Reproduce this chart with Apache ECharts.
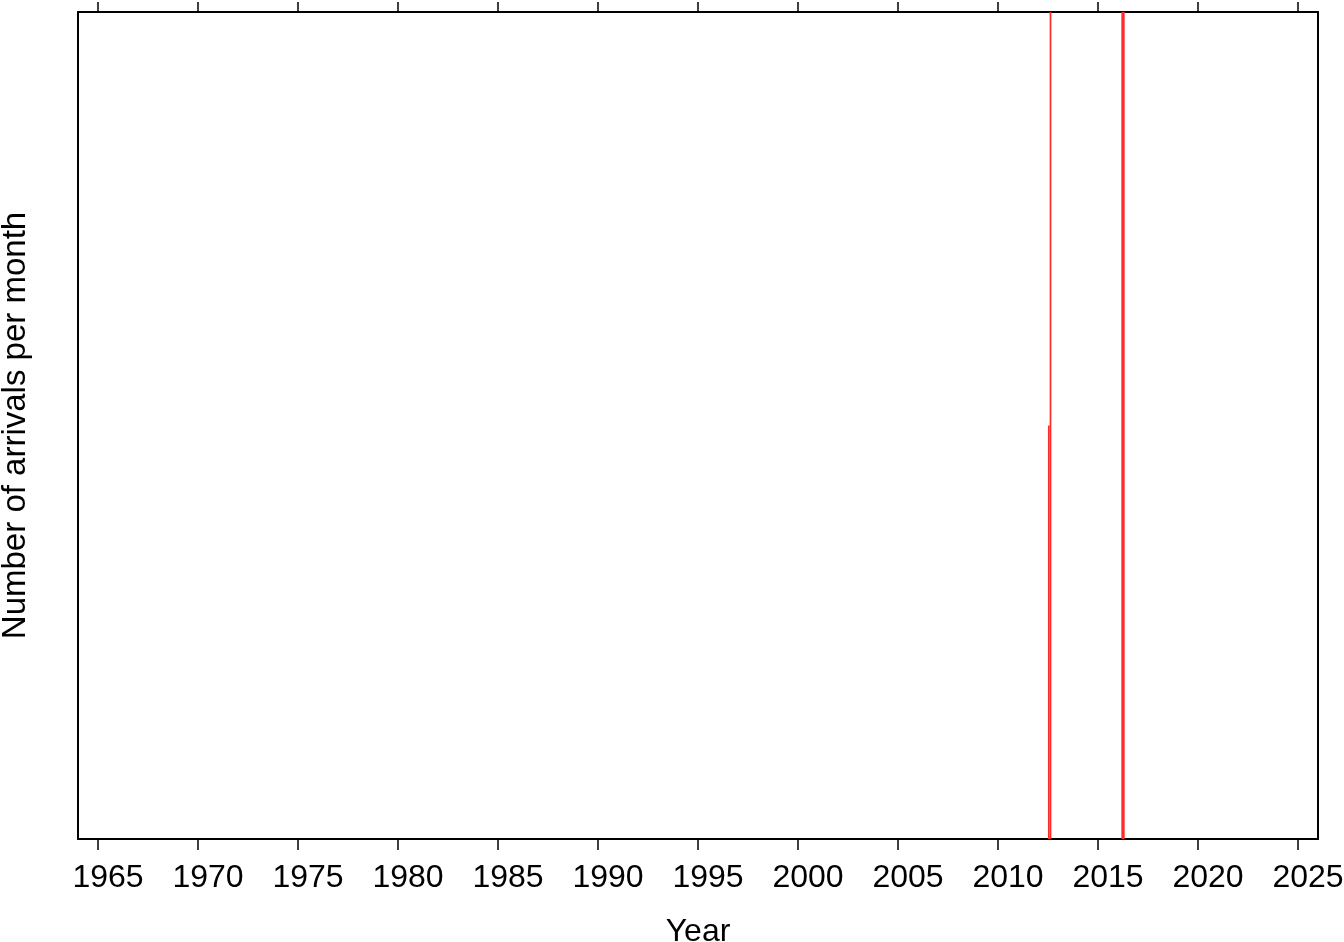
<!DOCTYPE html>
<html>
<head>
<meta charset="utf-8">
<script src="https://cdn.jsdelivr.net/npm/echarts@6/dist/echarts.min.js"></script>
<style>html,body{margin:0;padding:0;background:#fff;}#c{width:1344px;height:942px;}</style>
</head>
<body>
<div id="c"></div>
<script>
// Month centres (decimal years) and arrival counts
const monthYears = [2012.54, 2012.625, 2016.21, 2016.29];
const arrivals = [1, 2, 2, 2];
const xTicks = [1965, 1970, 1975, 1980, 1985, 1990, 1995, 2000, 2005, 2010, 2015, 2020, 2025];

const font = 'Liberation Sans, Arial, Helvetica, sans-serif';
const chart = echarts.init(document.getElementById('c'));
const axisLine = {show: true, onZero: false, lineStyle: {color: '#000', width: 2}};
chart.setOption({
  animation: false,
  grid: {left: 78, right: 26, top: 12, bottom: 103, containLabel: false, outerBoundsMode: 'none'},
  xAxis: [{
    type: 'value', min: 1964, max: 2026, interval: 5, position: 'bottom',
    axisLine: axisLine,
    axisTick: {show: true, length: 11, lineStyle: {color: '#000', width: 1.5}, customValues: xTicks},
    axisLabel: {show: true, color: '#000', fontSize: 32, fontFamily: font, margin: 23, padding: [0, 0, 0, 20], customValues: xTicks, formatter: v => String(v)},
    splitLine: {show: false},
    name: 'Year', nameLocation: 'middle', nameGap: 77,
    nameTextStyle: {color: '#000', fontSize: 32, fontFamily: font}
  }, {
    type: 'value', min: 1964, max: 2026, interval: 5, position: 'top',
    axisLine: axisLine,
    axisTick: {show: true, length: 10, lineStyle: {color: '#000', width: 1.5}, customValues: xTicks},
    axisLabel: {show: false}, splitLine: {show: false}
  }],
  yAxis: [{
    type: 'value', min: 0, max: 2, position: 'left',
    axisLine: axisLine, axisTick: {show: false}, axisLabel: {show: false}, splitLine: {show: false},
    name: 'Number of arrivals per month', nameLocation: 'middle', nameGap: 46,
    nameTextStyle: {color: '#000', fontSize: 33, fontFamily: font}
  }, {
    type: 'value', min: 0, max: 2, position: 'right',
    axisLine: axisLine, axisTick: {show: false}, axisLabel: {show: false}, splitLine: {show: false}
  }],
  series: [{
    type: 'bar', xAxisIndex: 0, yAxisIndex: 0,
    barWidth: 1.7,
    itemStyle: {color: '#ff2a2a'},
    data: monthYears.map((x, i) => [x, arrivals[i]])
  }]
});
</script>
</body>
</html>
